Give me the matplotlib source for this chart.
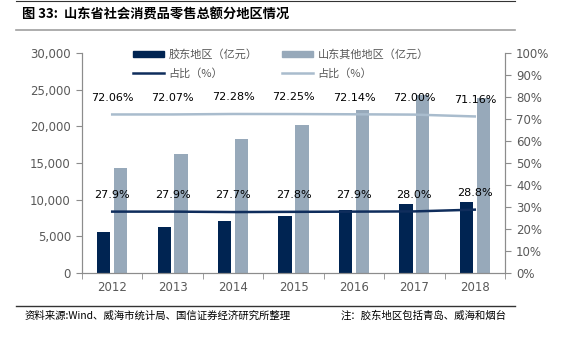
import numpy as np
import matplotlib.pyplot as plt
from matplotlib.lines import Line2D
from matplotlib.patches import Patch

plt.rcParams['font.family'] = ['Noto Sans CJK SC', 'DejaVu Sans']

years = ['2012', '2013', '2014', '2015', '2016', '2017', '2018']
jiaodong = [5540, 6270, 7040, 7730, 8550, 9410, 9690]      # 胶东地区 (亿元)
others = [14320, 16270, 18320, 20150, 22290, 24240, 23800]  # 山东其他地区 (亿元)
jd_share = [27.9, 27.9, 27.7, 27.8, 27.9, 28.0, 28.8]
ot_share = [72.06, 72.07, 72.28, 72.25, 72.14, 72.00, 71.16]

dark = '#002452'
light = '#97a9ba'
line_dark = '#0f2d5c'
line_light = '#a9bccd'
grey = '#595959'
spine_c = '#8c8c8c'

fig = plt.figure(figsize=(5.74, 3.37), dpi=100)
ax = fig.add_axes([82 / 574, 64 / 337, 423 / 574, 220 / 337])
ax2 = ax.twinx()

x = np.arange(len(years))
ax.bar(x - 0.14, jiaodong, width=0.22, color=dark, zorder=2)
ax.bar(x + 0.14, others, width=0.22, color=light, zorder=2)

ax2.plot(x, jd_share, color=line_dark, lw=1.8)
ax2.plot(x, ot_share, color=line_light, lw=1.8)

for i in range(len(years)):
    ax2.annotate(f'{jd_share[i]:.1f}%', (x[i], jd_share[i]), xytext=(0, 12),
                 textcoords='offset points', ha='center', va='center',
                 fontsize=8, family='DejaVu Sans', color='black')
    ax2.annotate(f'{ot_share[i]:.2f}%', (x[i], ot_share[i]), xytext=(0, 12),
                 textcoords='offset points', ha='center', va='center',
                 fontsize=8, family='DejaVu Sans', color='black')

ax.set_xlim(-0.5, 6.5)
ax.set_ylim(0, 30000)
ax.set_yticks(np.arange(0, 30001, 5000))
ax.set_yticklabels([f'{v:,}' for v in range(0, 30001, 5000)])
ax2.set_ylim(0, 100)
ax2.set_yticks(np.arange(0, 101, 10))
ax2.set_yticklabels([f'{v}%' for v in range(0, 101, 10)])

ax.set_xticks(x)
ax.set_xticklabels(years)
ax.set_xticks(np.arange(-0.5, 7, 1), minor=True)
ax.tick_params(axis='x', which='major', length=0, pad=6, labelsize=8.5, labelcolor=grey)
ax.tick_params(axis='x', which='minor', length=4, color=spine_c)
ax.tick_params(axis='y', length=4, color=spine_c, labelsize=8.5, labelcolor=grey, pad=4)
ax2.tick_params(axis='y', length=4, color=spine_c, labelsize=8.5, labelcolor=grey, pad=4)

for a in (ax, ax2):
    for s in a.spines.values():
        s.set_color(spine_c)
    a.spines['top'].set_visible(False)
    for lab in a.get_yticklabels() + a.get_xticklabels():
        lab.set_family('DejaVu Sans')

handles = [Patch(color=dark), Line2D([], [], color=line_dark, lw=1.8),
           Patch(color=light), Line2D([], [], color=line_light, lw=1.8)]
labels = ['胶东地区（亿元）', '占比（%）', '山东其他地区（亿元）', '占比（%）']
leg = fig.legend(handles, labels, ncol=2, loc='upper left',
                 bbox_to_anchor=(123 / 574, 1 - 39 / 337), frameon=False,
                 fontsize=8, handlelength=2.8, handleheight=0.45,
                 columnspacing=2.2, labelspacing=0.75, handletextpad=0.4)
for t in leg.get_texts():
    t.set_color(grey)

# header and footer
fig.text(22 / 574, 1 - 15 / 337, '图 33:  山东省社会消费品零售总额分地区情况',
         fontsize=9.5, fontweight='bold', va='center', ha='left')
fig.add_artist(Line2D([16 / 574, 515 / 574], [1 - 1 / 337, 1 - 1 / 337],
                      color='#333333', lw=0.8))
fig.add_artist(Line2D([16 / 574, 515 / 574], [1 - 29.5 / 337, 1 - 29.5 / 337],
                      color='#a0a0a0', lw=1.2))
fig.add_artist(Line2D([16 / 574, 515 / 574], [1 - 306 / 337, 1 - 306 / 337],
                      color='#333333', lw=1.0))
fig.text(25 / 574, 1 - 316 / 337, '资料来源:Wind、威海市统计局、国信证券经济研究所整理',
         fontsize=7.5, va='center', ha='left')
fig.text(507 / 574, 1 - 316 / 337, '注：胶东地区包括青岛、威海和烟台',
         fontsize=7.5, va='center', ha='right')

fig.savefig('out.png', dpi=100)
